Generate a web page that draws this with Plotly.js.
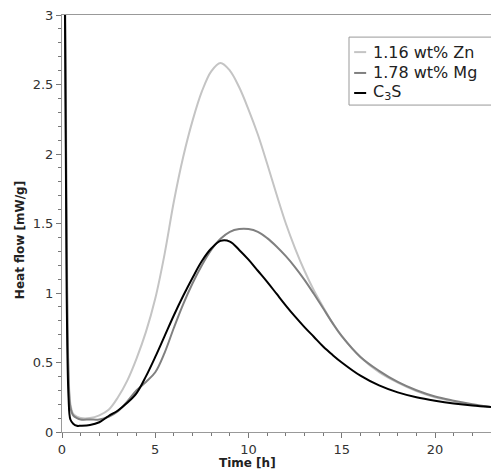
<!DOCTYPE html>
<html>
<head>
<meta charset="utf-8">
<script src="https://cdn.plot.ly/plotly-3.0.1.min.js"></script>
<style>html,body{margin:0;padding:0;background:#fff;}#chart{width:491px;height:471px;}</style>
</head>
<body>
<div id="chart"></div>
<script>
const time = [0.05, 0.15, 0.25, 0.35, 0.45, 0.6, 0.8, 1.0, 1.5, 2.0, 2.5, 3.0, 3.5, 4.0, 4.5, 5.0, 5.5, 6.0, 6.5, 7.0, 7.5, 8.0, 8.5, 9.0, 9.5, 10.0, 10.5, 11.0, 11.5, 12.0, 12.5, 13.0, 13.5, 14.0, 14.5, 15, 16, 17, 18, 19, 20, 21, 22, 23];
const zn  = [4.0, 3.5, 1.5, 0.45, 0.2, 0.13, 0.11, 0.10, 0.10, 0.12, 0.16, 0.25, 0.37, 0.53, 0.72, 0.96, 1.28, 1.66, 1.98, 2.24, 2.45, 2.595, 2.655, 2.60, 2.48, 2.32, 2.14, 1.93, 1.71, 1.50, 1.32, 1.16, 1.02, 0.90, 0.785, 0.69, 0.54, 0.43, 0.355, 0.295, 0.25, 0.22, 0.195, 0.18];
const mg  = [4.0, 3.3, 1.3, 0.40, 0.18, 0.12, 0.10, 0.09, 0.09, 0.09, 0.11, 0.15, 0.22, 0.30, 0.36, 0.43, 0.57, 0.75, 0.92, 1.07, 1.20, 1.31, 1.39, 1.44, 1.46, 1.46, 1.44, 1.395, 1.335, 1.265, 1.185, 1.095, 0.995, 0.89, 0.785, 0.69, 0.54, 0.44, 0.36, 0.30, 0.255, 0.225, 0.20, 0.18];
const c3s = [4.0, 3.2, 1.0, 0.25, 0.09, 0.06, 0.045, 0.045, 0.05, 0.07, 0.115, 0.155, 0.21, 0.28, 0.40, 0.54, 0.69, 0.84, 0.98, 1.11, 1.23, 1.32, 1.375, 1.37, 1.31, 1.24, 1.16, 1.08, 0.995, 0.91, 0.83, 0.755, 0.685, 0.615, 0.555, 0.50, 0.405, 0.335, 0.285, 0.25, 0.225, 0.205, 0.19, 0.18];
const seriesNames = ["1.16 wt% Zn", "1.78 wt% Mg", "C<sub>3</sub>S"];
const xTitle = "Time [h]";
const yTitle = "Heat flow [mW/g]";

const colors = ["#c4c4c4", "#808080", "#000000"];
const ys = [zn, mg, c3s];
const traces = ys.map((y, i) => ({
  x: time, y: y, type: "scatter", mode: "lines", name: seriesNames[i], showlegend: false,
  line: {color: colors[i], width: 2, shape: "spline", smoothing: 1.0}
}));

const font = "DejaVu Sans, Verdana, sans-serif";
// custom legend (box, short line samples, labels) in paper coordinates
const legX0 = 0.669, legX1 = 1.02, legY0 = 0.784, legY1 = 0.947;
const entryY = [0.911, 0.861, 0.813];
const shapes = [{type: "rect", xref: "paper", yref: "paper", x0: legX0, x1: legX1, y0: legY0, y1: legY1,
  line: {color: "#999", width: 1}, fillcolor: "#fff", layer: "above"}];
const annotations = [];
seriesNames.forEach((n, i) => {
  shapes.push({type: "line", xref: "paper", yref: "paper", x0: 0.681, x1: 0.709, y0: entryY[i], y1: entryY[i],
    line: {color: colors[i], width: 2}, layer: "above"});
  annotations.push({text: n, xref: "paper", yref: "paper", x: 0.721, y: entryY[i], xanchor: "left", yanchor: "middle",
    showarrow: false, font: {family: font, size: 16, color: "#222"}});
});
annotations.push(
  {text: "<b>" + xTitle + "</b>", xref: "paper", yref: "paper", x: 0.433, y: -0.075,
   xanchor: "center", yanchor: "middle", showarrow: false, font: {family: font, size: 12, color: "#222"}},
  {text: "<b>" + yTitle + "</b>", xref: "paper", yref: "paper", x: -0.098, y: 0.46, textangle: -90,
   xanchor: "center", yanchor: "middle", showarrow: false, font: {family: font, size: 12, color: "#222"}}
);

const layout = {
  width: 491, height: 471,
  margin: {l: 62, r: 0, t: 15, b: 39},
  paper_bgcolor: "#fff", plot_bgcolor: "#fff",
  showlegend: false,
  xaxis: {range: [0, 23], showgrid: false, zeroline: false,
    showline: true, linecolor: "#999", linewidth: 1, mirror: true,
    ticks: "outside", ticklen: 5, tickcolor: "#777", dtick: 5, tick0: 0,
    minor: {ticks: "outside", ticklen: 3, dtick: 1, tickcolor: "#777"},
    tickfont: {family: font, size: 13, color: "#333"}},
  yaxis: {range: [0, 3], showgrid: false, zeroline: false,
    showline: true, linecolor: "#999", linewidth: 1,
    ticks: "outside", ticklen: 5, tickcolor: "#777", dtick: 0.5, tick0: 0,
    minor: {ticks: "outside", ticklen: 3, dtick: 0.1, tickcolor: "#777"},
    tickfont: {family: font, size: 13, color: "#333"}},
  shapes: shapes,
  annotations: annotations
};
Plotly.newPlot("chart", traces, layout, {displayModeBar: false, staticPlot: true});
</script>
</body>
</html>
